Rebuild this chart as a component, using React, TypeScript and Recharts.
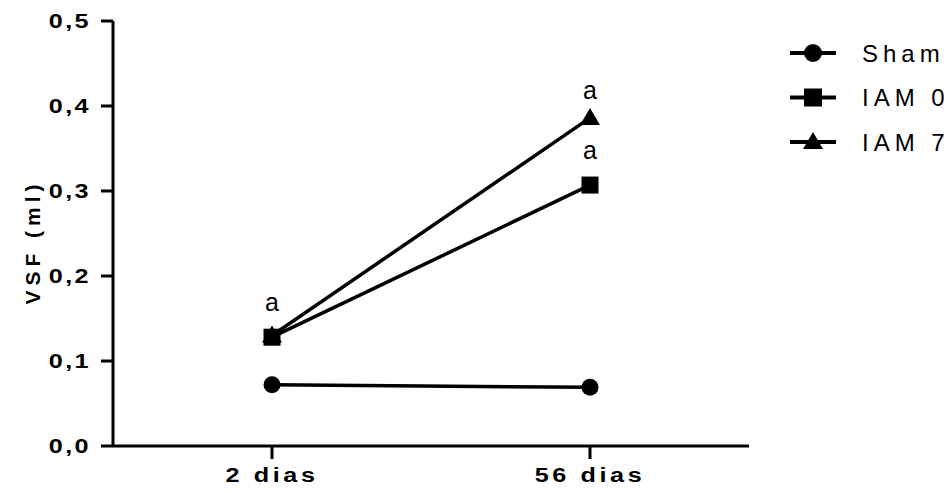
import React from 'react';
import { LineChart, Line, XAxis, YAxis } from 'recharts';

const timePoints = ['2 dias', '56 dias'];
const shamValues = [0.072, 0.069];
const iam0Values = [0.128, 0.307];
const iam7Values = [0.13, 0.386];
const iam0Marks = ['a', 'a'];
const iam7Marks = ['', 'a'];
const yTicks = [0, 0.1, 0.2, 0.3, 0.4, 0.5];

const data = timePoints.map((t, i) => ({
  x: i + 1,
  label: t,
  sham: shamValues[i],
  iam0: iam0Values[i],
  iam7: iam7Values[i],
  iam0Mark: iam0Marks[i],
  iam7Mark: iam7Marks[i],
}));

const FONT = '"Liberation Sans", Arial, sans-serif';

const CircleDot = (props: any) => {
  const { cx, cy } = props;
  if (cx == null || cy == null) return null;
  return <circle cx={cx} cy={cy} r={8.5} fill="#000" />;
};

const SquareDot = (props: any) => {
  const { cx, cy } = props;
  if (cx == null || cy == null) return null;
  return <rect x={cx - 8.5} y={cy - 8.5} width={17} height={17} fill="#000" />;
};

const TriangleDot = (props: any) => {
  const { cx, cy } = props;
  if (cx == null || cy == null) return null;
  return <polygon points={`${cx},${cy - 10} ${cx + 10},${cy + 7} ${cx - 10},${cy + 7}`} fill="#000" />;
};

const markLabel = (key: 'iam0Mark' | 'iam7Mark', offset: number) => (props: any) => {
  const { x, y, index } = props;
  const txt = data[index]?.[key];
  if (!txt) return null;
  return (
    <text x={x} y={y - offset} textAnchor="middle" fontFamily={FONT} fontSize={25} fill="#000">
      {txt}
    </text>
  );
};

const YTick = (props: any) => {
  const { x, y, payload } = props;
  const txt = Number(payload.value).toFixed(1).replace('.', ',');
  return (
    <g transform={`translate(${x},${y + 7})`}>
      <text transform="scale(1.2,1)" textAnchor="end" fontFamily={FONT} fontWeight="bold" fontSize={21} letterSpacing={2} fill="#000">
        {txt}
      </text>
    </g>
  );
};

const XTick = (props: any) => {
  const { x, y, payload } = props;
  const txt = timePoints[payload.value - 1] ?? '';
  return (
    <g transform={`translate(${x},${y + 19})`}>
      <text transform="scale(1.2,1)" textAnchor="middle" fontFamily={FONT} fontWeight="bold" fontSize={21} letterSpacing={3} fill="#000">
        {txt}
      </text>
    </g>
  );
};

const legendItems = [
  { name: 'Sham', shape: 'circle' },
  { name: 'IAM 0', shape: 'square' },
  { name: 'IAM 7', shape: 'triangle' },
];

// legend + rotated y title drawn on top of the chart
const Overlay = () => (
  <svg width={950} height={493} style={{ position: 'absolute', left: 0, top: 0, pointerEvents: 'none' }}>
    <text transform="translate(40,242) rotate(-90)" textAnchor="middle" fontFamily={FONT} fontWeight="bold" fontSize={21} letterSpacing={5} fill="#000">
      VSF (ml)
    </text>
    {legendItems.map((item, i) => {
      const cy = 53 + i * 44.5;
      return (
        <g key={item.name}>
          <line x1={790} x2={836} y1={cy} y2={cy} stroke="#000" strokeWidth={4} />
          {item.shape === 'circle' && <circle cx={813} cy={cy} r={9} fill="#000" />}
          {item.shape === 'square' && <rect x={804} y={cy - 9} width={18} height={18} fill="#000" />}
          {item.shape === 'triangle' && (
            <polygon points={`813,${cy - 10} 823,${cy + 7} 803,${cy + 7}`} fill="#000" />
          )}
          <text x={862} y={cy + 8.5} fontFamily={FONT} fontSize={24} letterSpacing={5} fill="#000">
            {item.name}
          </text>
        </g>
      );
    })}
  </svg>
);

export default function App() {
  return (
    <div style={{ position: 'absolute', left: 0, top: 0, width: 950, height: 493, background: '#fff' }}>
      <LineChart width={950} height={493} data={data} margin={{ top: 21, right: 201, left: 53, bottom: 17 }}>
        <XAxis
          dataKey="x"
          type="number"
          domain={[0.5, 2.5]}
          ticks={[1, 2]}
          height={30}
          tick={<XTick />}
          tickSize={13}
          tickMargin={4}
          stroke="#000"
          strokeWidth={3}
          tickLine={{ stroke: '#000', strokeWidth: 3 }}
        />
        <YAxis
          type="number"
          domain={[0, 0.5]}
          ticks={yTicks}
          width={60}
          tick={<YTick />}
          tickSize={12}
          tickMargin={10}
          stroke="#000"
          strokeWidth={3}
          tickLine={{ stroke: '#000', strokeWidth: 3 }}
        />
        <Line dataKey="sham" name="Sham" stroke="#000" strokeWidth={3.5} dot={<CircleDot />} isAnimationActive={false} />
        <Line dataKey="iam0" name="IAM 0" stroke="#000" strokeWidth={3.5} dot={<SquareDot />} isAnimationActive={false} label={markLabel('iam0Mark', 26)} />
        <Line dataKey="iam7" name="IAM 7" stroke="#000" strokeWidth={3.5} dot={<TriangleDot />} isAnimationActive={false} label={markLabel('iam7Mark', 19)} />
      </LineChart>
      <Overlay />
    </div>
  );
}
